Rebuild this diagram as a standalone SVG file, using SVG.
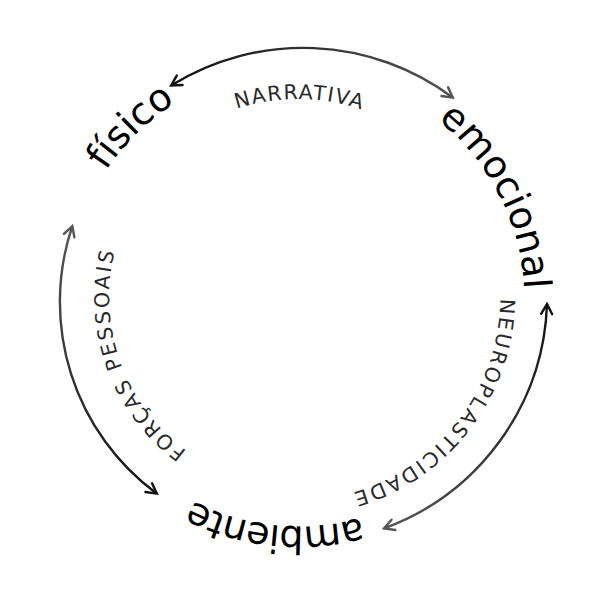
<svg xmlns="http://www.w3.org/2000/svg" width="600" height="600" viewBox="0 0 600 600">
  <style>
    .word { font-family: "DejaVu Sans", "Liberation Sans", sans-serif; font-size: 38px; fill: #000; }
    .lbl { font-family: "DejaVu Sans", "Liberation Sans", sans-serif; font-size: 20.5px; fill: #2a2a2a; }
    .arc { fill: none; stroke-width: 2.4; stroke-linecap: round; }
  </style>
  <defs>
    <path id="p-fisico" d="M 120.0 443.7 A 230 230 0 0 1 448.0 123.6"/>
    <path id="p-emocional" d="M 193.6 93.1 A 230 230 0 0 1 402.4 502.9"/>
    <path id="p-ambiente" d="M 526.9 320.4 A 230 230 0 0 1 69.1 275.6"/>
    <path id="p-narrativa" d="M 99.0 296.3 A 199 199 0 0 1 497.0 299.7"/>
    <path id="p-neuro" d="M 422.8 135.4 A 205 205 0 0 1 173.2 460.6"/>
    <path id="p-forcas" d="M 361.7 477.0 A 190 190 0 0 1 234.3 119.0"/>
    <linearGradient id="g-top" gradientUnits="userSpaceOnUse" x1="172" y1="85" x2="452" y2="97">
      <stop offset="0" stop-color="#111"/>
      <stop offset="1" stop-color="#555"/>
    </linearGradient>
    <linearGradient id="g-left" gradientUnits="userSpaceOnUse" x1="72" y1="227" x2="156" y2="493">
      <stop offset="0" stop-color="#555"/>
      <stop offset="1" stop-color="#111"/>
    </linearGradient>
    <linearGradient id="g-right" gradientUnits="userSpaceOnUse" x1="547" y1="305" x2="385" y2="528">
      <stop offset="0" stop-color="#111"/>
      <stop offset="1" stop-color="#555"/>
    </linearGradient>
    <marker id="ah-dark" viewBox="0 0 14 14" refX="11" refY="7" markerWidth="14" markerHeight="14" markerUnits="userSpaceOnUse" orient="auto-start-reverse">
      <path d="M 2 1.5 L 12 7 L 2 12.5" fill="none" stroke="#111" stroke-width="2.4" stroke-linecap="round" stroke-linejoin="miter"/>
    </marker>
    <marker id="ah-gray" viewBox="0 0 14 14" refX="11" refY="7" markerWidth="14" markerHeight="14" markerUnits="userSpaceOnUse" orient="auto-start-reverse">
      <path d="M 2 1.5 L 12 7 L 2 12.5" fill="none" stroke="#555" stroke-width="2.4" stroke-linecap="round" stroke-linejoin="miter"/>
    </marker>
  </defs>

  <g id="connectors">
    <g id="edge-fisico-emocional">
      <path class="arc" stroke="url(#g-top)" d="M 172 85 A 250 250 0 0 1 452 97" marker-start="url(#ah-dark)" marker-end="url(#ah-gray)"/>
      <text class="lbl" letter-spacing="1.5"><textPath href="#p-narrativa" startOffset="50%" text-anchor="middle">NARRATIVA</textPath></text>
    </g>
    <g id="edge-emocional-ambiente">
      <path class="arc" stroke="url(#g-right)" d="M 547 305 A 248 248 0 0 1 385 528" marker-start="url(#ah-dark)" marker-end="url(#ah-gray)"/>
      <text class="lbl" letter-spacing="2.4"><textPath href="#p-neuro" startOffset="50%" text-anchor="middle">NEUROPLASTICIDADE</textPath></text>
    </g>
    <g id="edge-ambiente-fisico">
      <path class="arc" stroke="url(#g-left)" d="M 156 493 A 238 238 0 0 1 72 227" marker-start="url(#ah-dark)" marker-end="url(#ah-gray)"/>
      <text class="lbl" letter-spacing="2.5"><textPath href="#p-forcas" startOffset="50%" text-anchor="middle">FORÇAS PESSOAIS</textPath></text>
    </g>
  </g>

  <g id="node-fisico">
    <text class="word"><textPath href="#p-fisico" startOffset="50%" text-anchor="middle">físico</textPath></text>
  </g>
  <g id="node-emocional">
    <text class="word"><textPath href="#p-emocional" startOffset="50%" text-anchor="middle">emocional</textPath></text>
  </g>
  <g id="node-ambiente">
    <text class="word" letter-spacing="-1"><textPath href="#p-ambiente" startOffset="50%" text-anchor="middle">ambiente</textPath></text>
  </g>
</svg>
